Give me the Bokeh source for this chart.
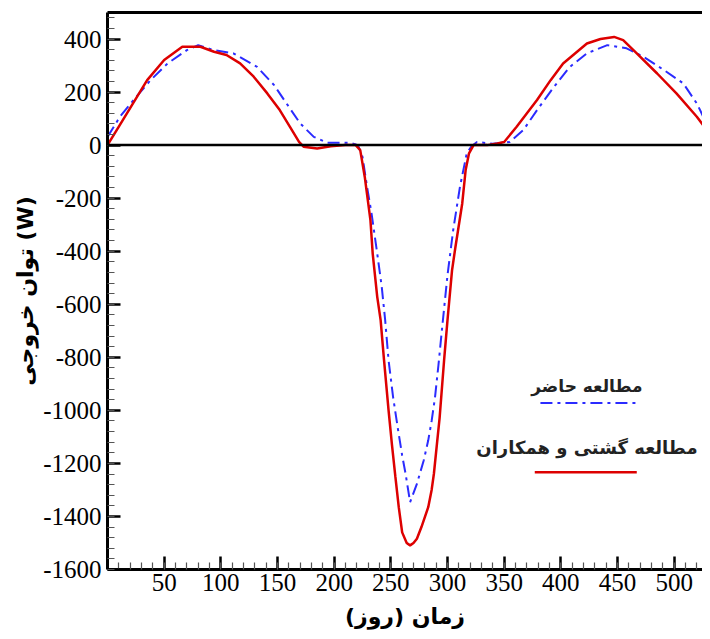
from bokeh.plotting import figure
from bokeh.models import Span, Label, LinearAxis, FixedTicker, Range1d, PrintfTickFormatter
from bokeh.embed import file_html
from bokeh.resources import INLINE

# ---- data ----
gosht_x = [0, 10, 26, 35, 50, 66, 82, 94, 105, 117, 129, 141, 152, 161, 169, 173, 185, 197, 210, 219,
           223, 227, 232, 234, 238, 241, 244, 248, 251, 254, 257, 260, 264, 267, 270, 273, 277, 283, 286,
           288, 291, 293, 297, 300, 304, 307, 313, 316, 319, 323, 335, 344, 350, 361, 379, 391, 402, 423,
           435, 447, 455, 467, 485, 502, 520, 532]
gosht_y = [0, 70, 182, 245, 321, 371, 371, 352, 340, 308, 258, 195, 132, 69, 12, -6, -13, -4, 0, 0,
           -19, -120, -283, -409, -572, -660, -811, -1000, -1130, -1250, -1365, -1460, -1500, -1509, -1500,
           -1484, -1440, -1365, -1300, -1239, -1113, -1030, -811, -660, -472, -384, -220, -94, -31, 0, 0, 6,
           12, 69, 170, 245, 308, 383, 400, 408, 396, 346, 270, 195, 107, 38]

present_x = [0, 11, 23, 38, 53, 70, 80, 94, 111, 132, 147, 158, 170, 182, 194, 214, 221, 225, 229, 233,
             238, 242, 245, 248, 252, 256, 260, 263, 267, 273, 279, 283, 286, 289, 292, 295, 300, 305, 311,
             317, 321, 326, 340, 355, 367, 379, 394, 408, 423, 441, 458, 473, 491, 508, 520, 530, 532]
present_y = [31, 107, 170, 245, 308, 358, 377, 358, 346, 295, 226, 157, 82, 31, 9, 9, 0, -44, -157, -258,
             -409, -535, -660, -811, -950, -1063, -1170, -1239, -1346, -1277, -1189, -1113, -1040, -950,
             -830, -700, -490, -321, -157, -31, -5, 12, 5, 12, 57, 132, 220, 295, 346, 377, 365, 333, 283,
             233, 157, 69, 55]

x_ticks = [50, 100, 150, 200, 250, 300, 350, 400, 450, 500]
y_ticks = [-1600, -1400, -1200, -1000, -800, -600, -400, -200, 0, 200, 400]

label_present = "مطالعه حاضر"
label_gosht = "مطالعه گشتی و همکاران"
x_title = "زمان (روز)"
y_title = "توان خروجی (W)"

BLUE = "#2b2bff"
RED = "#dd0000"
SERIF = "Liberation Serif"

p = figure(width=702, height=631, x_range=Range1d(0, 525), y_range=Range1d(-1600, 500),
           output_backend="svg", toolbar_location=None,
           min_border_left=107, min_border_right=0, min_border_top=12, min_border_bottom=62)
p.grid.visible = False
p.outline_line_color = None
p.background_fill_color = "white"

for ax in (p.xaxis[0], p.yaxis[0]):
    ax.axis_line_width = 3
    ax.axis_line_color = "black"
    ax.major_tick_line_width = 2.5
    ax.major_tick_line_color = "black"
    ax.minor_tick_line_width = 1.2
    ax.minor_tick_line_color = "#555555"
    ax.major_tick_in = 13
    ax.major_tick_out = 0
    ax.minor_tick_in = 7
    ax.minor_tick_out = 0
    ax.major_label_text_font = SERIF
    ax.major_label_text_font_size = "25px"
    ax.major_label_text_color = "black"
    ax.axis_label_text_font = "DejaVu Sans"
    ax.axis_label_text_font_style = "bold"
    ax.axis_label_text_font_size = "22px"
    ax.axis_label_text_color = "black"
    ax.formatter = PrintfTickFormatter(format="%d")

p.xaxis.ticker = FixedTicker(ticks=x_ticks, minor_ticks=list(range(0, 540, 10)))
p.yaxis.ticker = FixedTicker(ticks=y_ticks, minor_ticks=list(range(-1600, 501, 40)))
p.xaxis.axis_label = x_title
p.yaxis.axis_label = y_title
p.xaxis.major_label_standoff = 4
p.yaxis.major_label_standoff = 6
p.xaxis.axis_label_standoff = 10
p.yaxis.axis_label_standoff = 2

top = LinearAxis(major_tick_in=0, major_tick_out=0, minor_tick_in=0, minor_tick_out=0,
                 major_label_text_font_size="0px", axis_line_width=3, axis_line_color="black")
top.ticker = FixedTicker(ticks=[])
p.add_layout(top, "above")

p.line(present_x, present_y, line_color=BLUE, line_width=2, line_dash="12 5 3 5")
p.line(gosht_x, gosht_y, line_color=RED, line_width=2.5)

p.add_layout(Span(location=0, dimension="width", line_color="black", line_width=2.5))

# legend (custom: text above sample line)
p.add_layout(Label(x=423, y=-909, text=label_present, text_align="center", text_baseline="middle",
                   text_font="DejaVu Sans", text_font_style="bold", text_font_size="17px",
                   text_color="#222222"))
p.segment(x0=[382], y0=[-972], x1=[466], y1=[-972], line_color=BLUE, line_width=2, line_dash="12 5 3 5")
p.add_layout(Label(x=423, y=-1140, text=label_gosht, text_align="center", text_baseline="middle",
                   text_font="DejaVu Sans", text_font_style="bold", text_font_size="18px",
                   text_color="#222222"))
p.segment(x0=[377], y0=[-1233], x1=[467], y1=[-1233], line_color=RED, line_width=2.5)

open("out.html", "w").write(file_html(p, INLINE))
